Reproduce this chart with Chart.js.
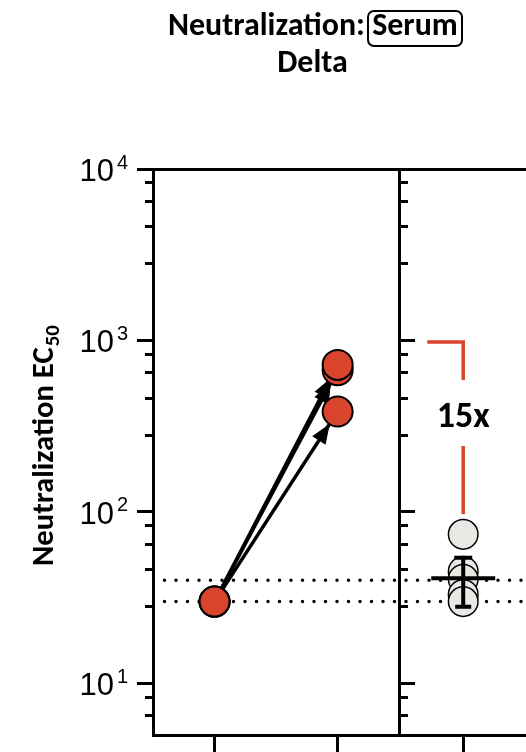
<!DOCTYPE html>
<html>
<head>
<meta charset="utf-8">
<script src="https://cdn.jsdelivr.net/npm/chart.js@4.4.1/dist/chart.umd.min.js"></script>
<style>
  html, body { margin: 0; padding: 0; background: #ffffff; overflow: hidden; }
  canvas { display: block; }
</style>
</head>
<body>
<canvas id="chart" width="526" height="752"></canvas>
<script>
// Serum neutralization (EC50) against Delta
const categoryX = [1, 2, 3.02];                 // x position of each group on the linear axis
const detectionLimits = [40, 30];               // dotted reference lines
const pairedBefore = [30, 30, 30];              // first time point, paired samples
const pairedAfter = [385, 670, 720];            // second time point, paired samples
const groupValues = [74, 45, 40.5, 33, 30];     // comparison group
const groupMean = [41];
const groupErrorRange = [28, 54];
const foldBracket = [980, 97];                  // top and bottom of the fold-change bracket
const foldLabel = '15x';
const majorTicks = [10, 100, 1000, 10000];
const majorTickExponents = ['1', '2', '3', '4'];
const minorTicks = [6.5, 8.3, 28, 46, 65, 83, 280, 460, 650, 830, 2800, 4600, 6500, 8300];

const X_MIN = 0.5, X_MAX = 3.53, PANEL_SPLIT = 2.5;
const Y_MIN = 5, Y_MAX = 10000;

const RED = '#D8442C';
const GREY = '#E8E8E4';
const BOLD = '"Carlito", "Lato", sans-serif';
const PLAIN = '"Liberation Sans", "Arimo", Arial, sans-serif';

function fitSize(ctx, text, weight, family, targetWidth) {
  ctx.font = weight + ' 40px ' + family;
  return 40 * targetWidth / ctx.measureText(text).width;
}

const decor = {
  id: 'decor',
  afterDatasetDraw(chart, args) {
    const ds = chart.data.datasets[args.index];
    if (!ds.arrow) return;
    const pts = args.meta.data;
    const a = pts[0], b = pts[pts.length - 1];
    const ang = Math.atan2(b.y - a.y, b.x - a.x);
    const c = Math.cos(ang), s = Math.sin(ang);
    const back = 14.5, len = 20, half = 8;
    const tx = b.x - c * back, ty = b.y - s * back;
    const bx = tx - c * len, by = ty - s * len;
    const ctx = chart.ctx;
    ctx.save();
    ctx.fillStyle = '#000';
    ctx.beginPath();
    ctx.moveTo(tx, ty);
    ctx.lineTo(bx - s * half, by + c * half);
    ctx.lineTo(bx + s * half, by - c * half);
    ctx.closePath();
    ctx.fill();
    ctx.restore();
  },
  afterDatasetsDraw(chart) {
    const ctx = chart.ctx;
    const xs = chart.scales.x, ys = chart.scales.y;
    const cx = xs.getPixelForValue(categoryX[2]);

    // mean and error bar of the comparison group
    const yMean = ys.getPixelForValue(groupMean[0]);
    const yLo = ys.getPixelForValue(groupErrorRange[0]);
    const yHi = ys.getPixelForValue(groupErrorRange[1]);
    ctx.save();
    ctx.strokeStyle = '#000';
    ctx.lineWidth = 4;
    ctx.lineCap = 'butt';
    ctx.beginPath();
    ctx.moveTo(cx - 32, yMean); ctx.lineTo(cx + 32, yMean);
    ctx.moveTo(cx, yHi); ctx.lineTo(cx, yLo);
    ctx.moveTo(cx - 9, yHi); ctx.lineTo(cx + 9, yHi);
    ctx.moveTo(cx - 8, yLo); ctx.lineTo(cx + 8, yLo);
    ctx.stroke();

    // fold-change bracket
    const yTop = ys.getPixelForValue(foldBracket[0]);
    const yBot = ys.getPixelForValue(foldBracket[1]);
    ctx.strokeStyle = RED;
    ctx.lineWidth = 3.5;
    ctx.lineJoin = 'miter';
    ctx.beginPath();
    ctx.moveTo(cx - 36, yTop);
    ctx.lineTo(cx, yTop);
    ctx.lineTo(cx, yTop + 38);
    ctx.stroke();
    ctx.beginPath();
    ctx.moveTo(cx, yTop + 104);
    ctx.lineTo(cx, yBot);
    ctx.stroke();

    const fs = fitSize(ctx, foldLabel, 'bold', BOLD, 53);
    ctx.font = 'bold ' + fs + 'px ' + BOLD;
    ctx.fillStyle = '#000';
    ctx.textAlign = 'center';
    ctx.textBaseline = 'alphabetic';
    ctx.fillText(foldLabel, cx, yTop + 85);
    ctx.restore();
  },
  afterDraw(chart) {
    const ctx = chart.ctx;
    const ys = chart.scales.y;
    ctx.save();
    ctx.fillStyle = '#000';

    // y tick labels: 10 with superscript exponent
    majorTicks.forEach((v, i) => {
      const y = ys.getPixelForValue(v);
      ctx.font = '31px ' + PLAIN;
      ctx.textAlign = 'right';
      ctx.textBaseline = 'alphabetic';
      ctx.fillText('10', 114, y + 12);
      ctx.font = '20px ' + PLAIN;
      ctx.textAlign = 'left';
      ctx.fillText(majorTickExponents[i], 117, y - 0.5);
    });

    // y axis title
    const ts = fitSize(ctx, 'Neutralization', 'bold', BOLD, 181);
    ctx.save();
    ctx.translate(53, 566);
    ctx.rotate(-Math.PI / 2);
    ctx.font = 'bold ' + ts + 'px ' + BOLD;
    ctx.textAlign = 'left';
    ctx.textBaseline = 'alphabetic';
    ctx.fillText('Neutralization EC', 0, 0);
    const w = ctx.measureText('Neutralization EC').width;
    ctx.font = 'bold ' + (ts * 0.68) + 'px ' + BOLD;
    ctx.fillText('50', w + 1, ts * 0.18);
    ctx.restore();

    // chart title
    const hs = fitSize(ctx, 'Neutralization:', 'bold', BOLD, 197);
    ctx.font = 'bold ' + hs + 'px ' + BOLD;
    ctx.textBaseline = 'alphabetic';
    ctx.textAlign = 'left';
    ctx.fillText('Neutralization:', 168, 35);
    ctx.textAlign = 'center';
    ctx.fillText('Serum', 415, 35);
    ctx.fillText('Delta', 312.5, 72);
    ctx.strokeStyle = '#000';
    ctx.lineWidth = 2;
    ctx.beginPath();
    ctx.roundRect(368, 11, 94, 35, 6);
    ctx.stroke();
    ctx.restore();
  }
};

function tickAxis(values, position, length, border) {
  return {
    type: 'logarithmic',
    axis: 'y',
    position: position,
    min: Y_MIN,
    max: Y_MAX,
    afterBuildTicks: s => { s.ticks = values.map(v => ({ value: v })); },
    afterFit: s => { s.width = 0; },
    ticks: { display: false },
    grid: { drawOnChartArea: false, drawTicks: true, tickLength: length, tickWidth: 3, tickColor: '#000' },
    border: border ? { display: true, width: 3, color: '#000' } : { display: false }
  };
}

const dotted = detectionLimits.map(v => ({
  data: [{ x: X_MIN, y: v }, { x: X_MAX, y: v }],
  showLine: true,
  borderColor: '#000',
  borderWidth: 3.5,
  borderDash: [0, 11.5],
  borderCapStyle: 'round',
  pointRadius: 0,
  order: 5
}));

const arrows = pairedBefore.map((v, i) => ({
  data: [{ x: categoryX[0], y: v }, { x: categoryX[1], y: pairedAfter[i] }],
  showLine: true,
  arrow: true,
  borderColor: '#000',
  borderWidth: 3.5,
  pointRadius: 0,
  order: 4
}));

const groupPoints = {
  data: groupValues.map(v => ({ x: categoryX[2], y: v })),
  pointRadius: 14.8,
  pointBackgroundColor: GREY,
  pointBorderColor: '#000',
  pointBorderWidth: 1.5,
  order: 3
};

const pairedPoints = {
  data: pairedBefore.map(v => ({ x: categoryX[0], y: v }))
    .concat(pairedAfter.map(v => ({ x: categoryX[1], y: v }))),
  pointRadius: 15,
  pointBackgroundColor: RED,
  pointBorderColor: '#000',
  pointBorderWidth: 2,
  order: 1
};

new Chart(document.getElementById('chart'), {
  type: 'scatter',
  data: { datasets: [...dotted, ...arrows, groupPoints, pairedPoints] },
  options: {
    responsive: false,
    animation: false,
    devicePixelRatio: 1,
    layout: { autoPadding: false, padding: { top: 169, left: 0, right: 0, bottom: 0 } },
    plugins: { legend: { display: false }, tooltip: { enabled: false }, title: { display: false } },
    scales: {
      x: {
        type: 'linear', position: 'bottom', min: X_MIN, max: X_MAX,
        afterBuildTicks: s => { s.ticks = categoryX.map(v => ({ value: v })); },
        afterFit: s => { s.height = 17; },
        ticks: { display: false },
        grid: { drawOnChartArea: false, drawTicks: true, tickLength: 17, tickWidth: 3, tickColor: '#000' },
        border: { display: true, width: 3, color: '#000' }
      },
      xTop: {
        type: 'linear', axis: 'x', position: 'top', min: X_MIN, max: X_MAX,
        afterFit: s => { s.height = 0; },
        ticks: { display: false },
        grid: { display: false, drawTicks: false },
        border: { display: true, width: 3, color: '#000' }
      },
      y: {
        type: 'logarithmic', position: 'left', min: Y_MIN, max: Y_MAX,
        afterBuildTicks: s => { s.ticks = majorTicks.map(v => ({ value: v })); },
        afterFit: s => { s.width = 153; },
        ticks: { display: false },
        grid: { drawOnChartArea: false, drawTicks: true, tickLength: 16, tickWidth: 3, tickColor: '#000' },
        border: { display: true, width: 3, color: '#000' }
      },
      yMinor: tickAxis(minorTicks, { x: X_MIN }, 8, false),
      ySplit: tickAxis(majorTicks, { x: PANEL_SPLIT }, -17, true),
      ySplitMinor: tickAxis(minorTicks, { x: PANEL_SPLIT }, -9, false)
    }
  },
  plugins: [decor]
});
</script>
</body>
</html>
